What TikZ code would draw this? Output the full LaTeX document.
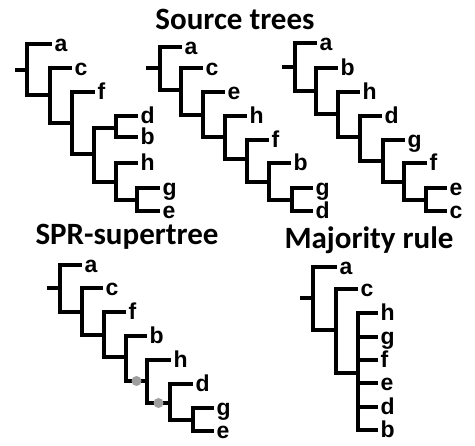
\documentclass[tikz,border=0pt]{standalone}
\usepackage{fontspec}
\setmainfont{Liberation Sans}
\newfontfamily\headfont{Carlito}

\begin{document}
\begin{tikzpicture}
		[
			x={(1pt, 0pt)},
			y={(0pt, -1pt)},
			branch/.style={line width=3.2pt},
			leaf/.style={anchor=mid west, inner xsep=2.5pt, inner ysep=0pt, yshift=-1pt,
					node font=\fontsize{23}{23}\selectfont\bfseries},
			heading/.style={anchor=base, inner sep=0pt, node font=\fontsize{31}{31}\headfont\bfseries},
			cut/.style={circle, fill=black!38, inner sep=0pt, minimum size=10pt}
		]
		\useasboundingbox (0,0) rectangle (475,446);
		% Headings
		\node[heading] (src) at (235,30) {Source trees};
		\node[heading] (spr) at (127,245) {SPR-supertree};
		\node[heading] (maj) at (369,249) {Majority rule};
		% First source tree
		\foreach \n/\x/\y in {r/27/70, n2/50/95, n3/72/123, n4/94/154, n5/116/128, n6/116/182, n7/137/200}
			\coordinate (t1\n) at (\x,\y);
		\coordinate (t1s) at (15,70);
		\draw[branch] (t1s) -- (t1r);
		\foreach \p/\c in {r/n2, n2/n3, n3/n4, n4/n5, n4/n6, n6/n7}
			\draw[branch] (t1\p) |- (t1\c);
		\foreach \n/\x/\y/\p in {a/52/44/r, c/72/68/n2, f/95/92/n3, d/138/116/n5, b/138/137/n5, h/138/163/n6, g/160/188/n7, e/160/211/n7} {
				\coordinate (t1\n) at (\x,\y);
				\node[leaf] (l1\n) at (t1\n) {\n};
				\draw[branch] (t1\p) |- (t1\n);
			}
		% Second source tree
		\foreach \n/\x/\y in {r/160/68, n2/181/90, n3/203/115, n4/225/137, n5/247/159, n6/269/182, n7/292/200}
			\coordinate (t2\n) at (\x,\y);
		\coordinate (t2s) at (146,68);
		\draw[branch] (t2s) -- (t2r);
		\foreach \p/\c in {r/n2, n2/n3, n3/n4, n4/n5, n5/n6, n6/n7}
			\draw[branch] (t2\p) |- (t2\c);
		\foreach \n/\x/\y/\p in {a/182/47/r, c/203/68/n2, e/225/92/n3, h/247/116/n4, f/269/140/n5, b/291/163/n6, g/313/188/n7, d/313/211/n7} {
				\coordinate (t2\n) at (\x,\y);
				\node[leaf] (l2\n) at (t2\n) {\n};
				\draw[branch] (t2\p) |- (t2\n);
			}
		% Third source tree
		\foreach \n/\x/\y in {r/295/67, n2/316/91, n3/338/114, n4/360/137, n5/383/161, n6/404/182, n7/426/200}
			\coordinate (t3\n) at (\x,\y);
		\coordinate (t3s) at (282,67);
		\draw[branch] (t3s) -- (t3r);
		\foreach \p/\c in {r/n2, n2/n3, n3/n4, n4/n5, n5/n6, n6/n7}
			\draw[branch] (t3\p) |- (t3\c);
		\foreach \n/\x/\y/\p in {a/317/43/r, b/338/68/n2, h/360/92/n3, d/382/116/n4, g/405/140/n5, f/427/163/n6, e/447/188/n7, c/447/211/n7} {
				\coordinate (t3\n) at (\x,\y);
				\node[leaf] (l3\n) at (t3\n) {\n};
				\draw[branch] (t3\p) |- (t3\n);
			}
		% SPR supertree
		\foreach \n/\x/\y in {r/60/288, n2/82/312, n3/104/335, n4/126/357, n5/147/381, n6/170/403, n7/193/420}
			\coordinate (t4\n) at (\x,\y);
		\coordinate (t4s) at (47,288);
		\draw[branch] (t4s) -- (t4r);
		\foreach \p/\c in {r/n2, n2/n3, n3/n4, n4/n5, n5/n6, n6/n7}
			\draw[branch] (t4\p) |- (t4\c);
		\foreach \n/\x/\y/\p in {a/82/265/r, c/103/288/n2, f/126/312/n3, b/147/336/n4, h/171/360/n5, d/193/384/n6, g/214/408/n7, e/214/431/n7} {
				\coordinate (t4\n) at (\x,\y);
				\node[leaf] (l4\n) at (t4\n) {\n};
				\draw[branch] (t4\p) |- (t4\n);
			}
		% SPR moves
		\path (t4n4 |- t4n5) -- (t4n5) node[cut, pos=0.5] (cut1) {};
		\path (t4n5 |- t4n6) -- (t4n6) node[cut, pos=0.5] (cut2) {};
		% Majority rule consensus
		\foreach \n/\x/\y in {r/313/298, n2/336/330, n3/358/373}
			\coordinate (t5\n) at (\x,\y);
		\coordinate (t5s) at (300,298);
		\draw[branch] (t5s) -- (t5r);
		\foreach \p/\c in {r/n2, n2/n3}
			\draw[branch] (t5\p) |- (t5\c);
		\foreach \n/\x/\y/\p in {a/337/267/r, c/358/289/n2, h/378/313/n3, g/378/337/n3, f/378/360/n3, e/378/383/n3, d/378/407/n3, b/378/430/n3} {
				\coordinate (t5\n) at (\x,\y);
				\node[leaf] (l5\n) at (t5\n) {\n};
				\draw[branch] (t5\p) |- (t5\n);
			}
	\end{tikzpicture}
\end{document}
